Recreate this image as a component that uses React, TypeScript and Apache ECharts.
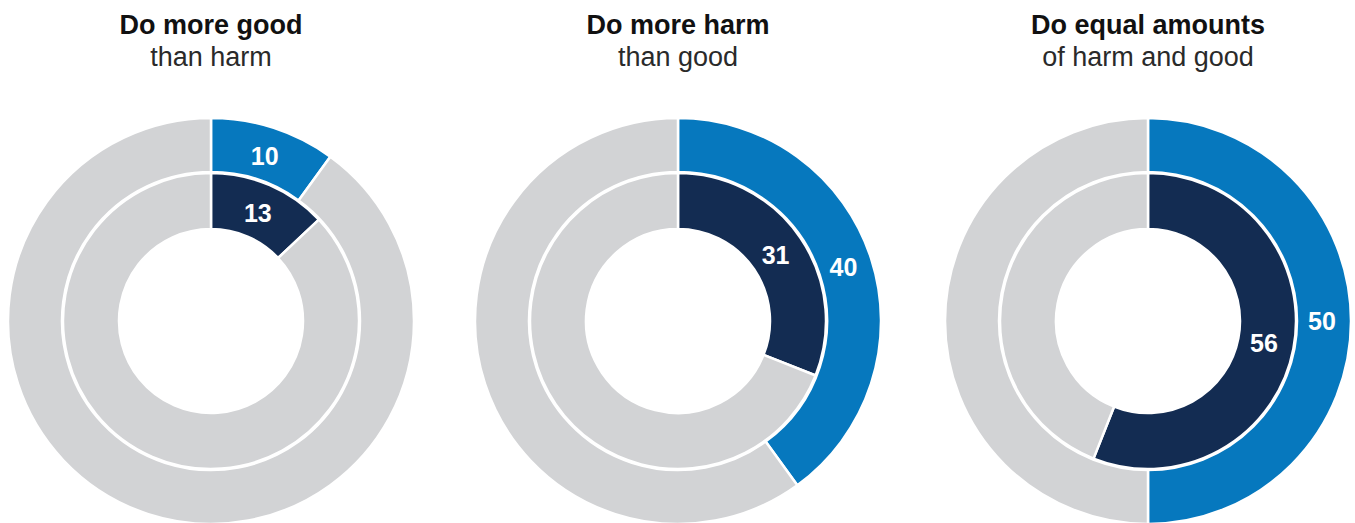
import React, { useEffect, useRef } from "react";
import * as echarts from "echarts";

const titles = ["Do more good", "Do more harm", "Do equal amounts"];
const subtitles = ["than harm", "than good", "of harm and good"];
const outerValues = [10, 40, 50];
const innerValues = [13, 31, 56];

const BLUE = "#0678BE";
const NAVY = "#132C52";
const GREY = "#D2D3D5";
const FONT = '"Liberation Sans", Arial, Helvetica, sans-serif';

const centersX = [211, 678, 1148];
const centerY = 321;

export default function App() {
  const ref = useRef<HTMLDivElement>(null);
  useEffect(() => {
    if (!ref.current) return;
    const chart = echarts.init(ref.current, undefined, { renderer: "svg" });
    const series: any[] = [];
    titles.forEach((_, i) => {
      const mk = (value: number, color: string, radius: number[]) => ({
        type: "pie",
        center: [centersX[i], centerY],
        radius,
        startAngle: 90,
        clockwise: true,
        silent: true,
        avoidLabelOverlap: false,
        labelLine: { show: false },
        emphasis: { disabled: true },
        itemStyle: { borderColor: "#fff", borderWidth: 2.5 },
        labelLayout: (p: any) => {
          const cx = centersX[Math.floor(p.seriesIndex / 2)];
          const r = p.labelRect;
          const lx = r.x + r.width / 2;
          const ly = r.y + r.height / 2;
          const dx = cx - lx;
          const dy = centerY - ly;
          const d = Math.sqrt(dx * dx + dy * dy) || 1;
          return { dx: (dx / d) * 5, dy: (dy / d) * 5 };
        },
        data: [
          {
            value,
            itemStyle: { color },
            label: {
              show: true,
              position: "inside",
              formatter: "{c}",
              color: "#fff",
              fontSize: 25,
              fontWeight: "bold",
              fontFamily: FONT,
            },
          },
          {
            value: 100 - value,
            itemStyle: { color: GREY },
            label: { show: false },
          },
        ],
      });
      series.push(mk(outerValues[i], BLUE, [149, 203]));
      series.push(mk(innerValues[i], NAVY, [92, 148]));
    });
    const graphic: any[] = [];
    titles.forEach((t, i) => {
      graphic.push({
        type: "text",
        x: centersX[i],
        y: 25,
        style: {
          text: t,
          font: `bold 27px ${FONT}`,
          fill: "#111",
          textAlign: "center",
          textVerticalAlign: "middle",
        },
      });
      graphic.push({
        type: "text",
        x: centersX[i],
        y: 57,
        style: {
          text: subtitles[i],
          font: `27px ${FONT}`,
          fill: "#2a2a2a",
          textAlign: "center",
          textVerticalAlign: "middle",
        },
      });
    });
    chart.setOption({
      animation: false,
      backgroundColor: "#fff",
      series,
      graphic,
    });
    return () => chart.dispose();
  }, []);
  return (
    <div
      ref={ref}
      style={{ position: "fixed", left: 0, top: 0, width: 1355, height: 523 }}
    />
  );
}
